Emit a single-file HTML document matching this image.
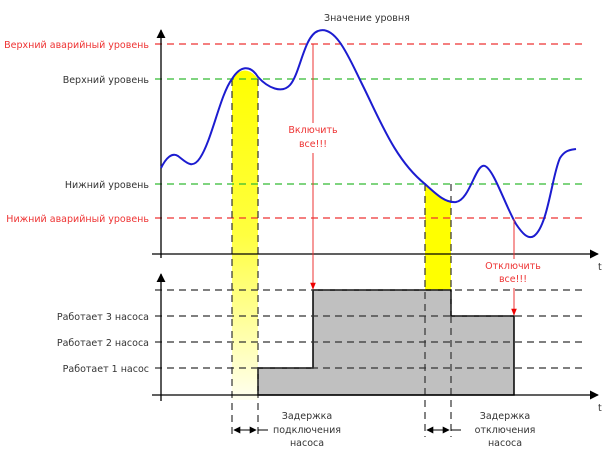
<!DOCTYPE html>
<html><head><meta charset="utf-8"><style>body{margin:0;background:#fff}svg{display:block}text{font-family:"DejaVu Sans","Liberation Sans",sans-serif;font-size:9.5px}</style></head><body>
<svg width="612" height="451" viewBox="0 0 612 451">
<defs>
<linearGradient id="g1" x1="0" y1="0" x2="0" y2="1"><stop offset="0" stop-color="#ffff00"/><stop offset="0.5" stop-color="#ffff40"/><stop offset="1" stop-color="#fffff0"/></linearGradient>
<marker id="ar" viewBox="0 0 10 10" refX="9" refY="5" markerWidth="7" markerHeight="7" orient="auto-start-reverse"><path d="M0,0L10,5L0,10z" fill="#000"/></marker>
<marker id="rr" viewBox="0 0 10 10" refX="9" refY="5" markerWidth="7" markerHeight="8" orient="auto"><path d="M0,1L10,5L0,9z" fill="#e00"/></marker>
</defs>
<path d="M232,79 Q245,62 258,79 L258,400 L232,400Z" fill="url(#g1)"/>
<path d="M425,184 Q438,198 451,202 L451,290 L425,290Z" fill="#ffff00"/>
<path d="M258,395 V368 H313 V290 H451 V316 H514 V395Z" fill="#c0c0c0" stroke="#000" stroke-width="1.5"/>
<g stroke-dasharray="7,5" stroke-width="1.2">
<line x1="155" y1="44" x2="585" y2="44" stroke="#e33"/>
<line x1="155" y1="218" x2="585" y2="218" stroke="#e33"/>
<line x1="155" y1="79" x2="585" y2="79" stroke="#3b3"/>
<line x1="155" y1="184" x2="585" y2="184" stroke="#3b3"/>
<g stroke="#333"><line x1="155" y1="290" x2="585" y2="290"/><line x1="155" y1="316" x2="585" y2="316"/><line x1="155" y1="342" x2="585" y2="342"/><line x1="155" y1="368" x2="585" y2="368"/>
<line x1="232" y1="79" x2="232" y2="437"/><line x1="258" y1="79" x2="258" y2="437"/><line x1="425" y1="184" x2="425" y2="437"/><line x1="451" y1="184" x2="451" y2="437"/></g>
</g>
<line x1="161" y1="258" x2="161" y2="30" stroke="#000" stroke-width="1.3" marker-end="url(#ar)"/>
<line x1="152" y1="254" x2="598" y2="254" stroke="#000" stroke-width="1.3" marker-end="url(#ar)"/>
<line x1="161" y1="401" x2="161" y2="274" stroke="#000" stroke-width="1.3" marker-end="url(#ar)"/>
<line x1="152" y1="395" x2="598" y2="395" stroke="#000" stroke-width="1.3" marker-end="url(#ar)"/>
<path d="M161,168 C166,158 172,152 178,156 C186,162 192,170 200,158 C212,140 220,95 232,79 C240,66 250,64 258,77 C268,88 282,94 290,85 C300,74 304,36 318,31 C336,24 350,60 362,84 C380,120 395,160 425,184 C438,196 446,203 456,202 C470,200 476,162 485,166 C494,170 505,205 516,224 C522,233 528,240 534,236 C548,226 552,175 560,158 C565,150 570,150 576,149" fill="none" stroke="#1c1cd0" stroke-width="2"/>
<line x1="313" y1="44" x2="313" y2="289" stroke="#e33" stroke-width="1" marker-end="url(#rr)"/>
<line x1="514" y1="219" x2="514" y2="315" stroke="#e33" stroke-width="1" marker-end="url(#rr)"/>
<rect x="283" y="123" width="60" height="30" fill="#fff"/>
<rect x="480" y="259" width="66" height="29" fill="#fff"/>
<g fill="#e33" text-anchor="middle"><text x="313" y="133">Включить</text><text x="313" y="147">все!!!</text><text x="513" y="269">Отключить</text><text x="513" y="282">все!!!</text></g>
<g text-anchor="end"><text x="149" y="48" fill="#e33">Верхний аварийный уровень</text><text x="149" y="83" fill="#333">Верхний уровень</text><text x="149" y="188" fill="#333">Нижний уровень</text><text x="149" y="222" fill="#e33">Нижний аварийный уровень</text>
<text x="149" y="320" fill="#333">Работает 3 насоса</text><text x="149" y="346" fill="#333">Работает 2 насоса</text><text x="149" y="372" fill="#333">Работает 1 насос</text></g>
<text x="324" y="21" fill="#333" font-size="11">Значение уровня</text>
<text x="598" y="270" fill="#333" font-size="12">t</text><text x="598" y="411" fill="#333" font-size="12">t</text>
<g stroke="#000" stroke-width="1"><line x1="234" y1="430" x2="256" y2="430" marker-end="url(#ar)" marker-start="url(#ar)"/><line x1="427" y1="430" x2="449" y2="430" marker-end="url(#ar)" marker-start="url(#ar)"/><line x1="258" y1="430" x2="268" y2="430"/><line x1="451" y1="430" x2="461" y2="430"/></g>
<g fill="#333" text-anchor="middle"><text x="307" y="419">Задержка</text><text x="307" y="433">подключения</text><text x="307" y="446">насоса</text><text x="505" y="419">Задержка</text><text x="505" y="433">отключения</text><text x="505" y="446">насоса</text></g>
</svg>
</body></html>
